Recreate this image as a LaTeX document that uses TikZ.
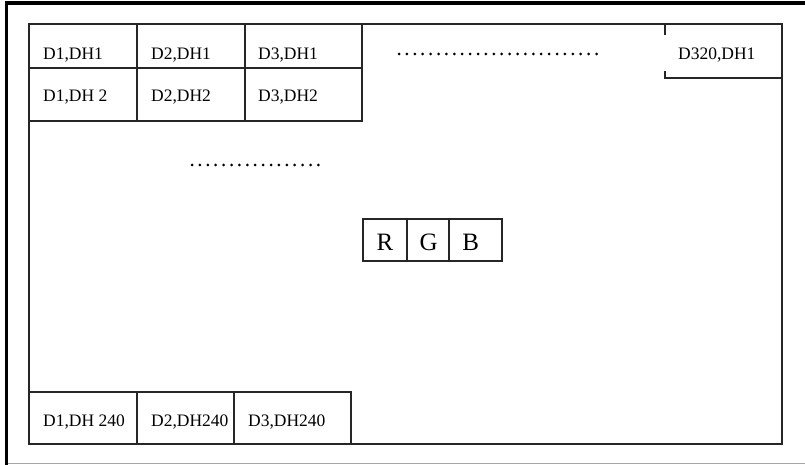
\documentclass[tikz,border=0pt]{standalone}
\usepackage{fontspec}
\setmainfont{Liberation Serif}
\begin{document}
\begin{tikzpicture}[x=1pt,y=-1pt,
  cellline/.style={draw=black!85,line width=1.2pt},
  lbl/.style={anchor=base west,inner sep=0pt,font=\fontsize{17.5}{20}\selectfont},
  rgbl/.style={anchor=base,inner sep=0pt,font=\fontsize{25}{28}\selectfont},
  dotrow/.style={line width=3pt,line cap=round,dash pattern=on 0pt off 7.9pt}]
\useasboundingbox (0,0) rectangle (805,465);
% outer frame
\draw[gray!70,line width=1pt] (5,463.5) -- (805,463.5);
\draw[black,line width=3.3pt] (6.7,465) -- (6.7,3) -- (805,3);
% inner frame
\draw[cellline] (29,24) rectangle (782,444);
% top rows
\foreach \xa/\xb [count=\i] in {29/137,137/245,245/362}{
  \draw[cellline] (\xa,24) rectangle (\xb,68);
  \draw[cellline] (\xa,68) rectangle (\xb,121);
}
% bottom row
\foreach \xa/\xb in {29/137,137/234,234/351}{
  \draw[cellline] (\xa,392) rectangle (\xb,444);
}
% D320 cell
\draw[cellline] (665,24) -- (665,35);
\draw[cellline] (665,71.5) -- (665,78) -- (782,78);
% RGB
\draw[cellline] (363,219) rectangle (407,261);
\draw[cellline] (407,219) rectangle (449,261);
\draw[cellline] (449,219) rectangle (502,261);
% labels
\node[lbl] (t11) at (43,59.3) {D1,DH1};
\node[lbl] (t21) at (151,59.3) {D2,DH1};
\node[lbl] (t31) at (258,59.3) {D3,DH1};
\node[lbl] (t12) at (43,101.7) {D1,DH 2};
\node[lbl] (t22) at (151,101.7) {D2,DH2};
\node[lbl] (t32) at (258,101.7) {D3,DH2};
\node[lbl] (t320) at (678,60) {D320,DH1};
\node[lbl] (b1) at (43,426) {D1,DH 240};
\node[lbl] (b2) at (151,426) {D2,DH240};
\node[lbl] (b3) at (248,426) {D3,DH240};
\node[rgbl] (r) at (385,250) {R};
\node[rgbl] (g) at (428.7,250) {G};
\node[rgbl] (b) at (470.8,250) {B};
% dots
\draw[dotrow] (399,54) -- (597.5,54);
\draw[dotrow] (192,165) -- (318.5,165);
\end{tikzpicture}
\end{document}
